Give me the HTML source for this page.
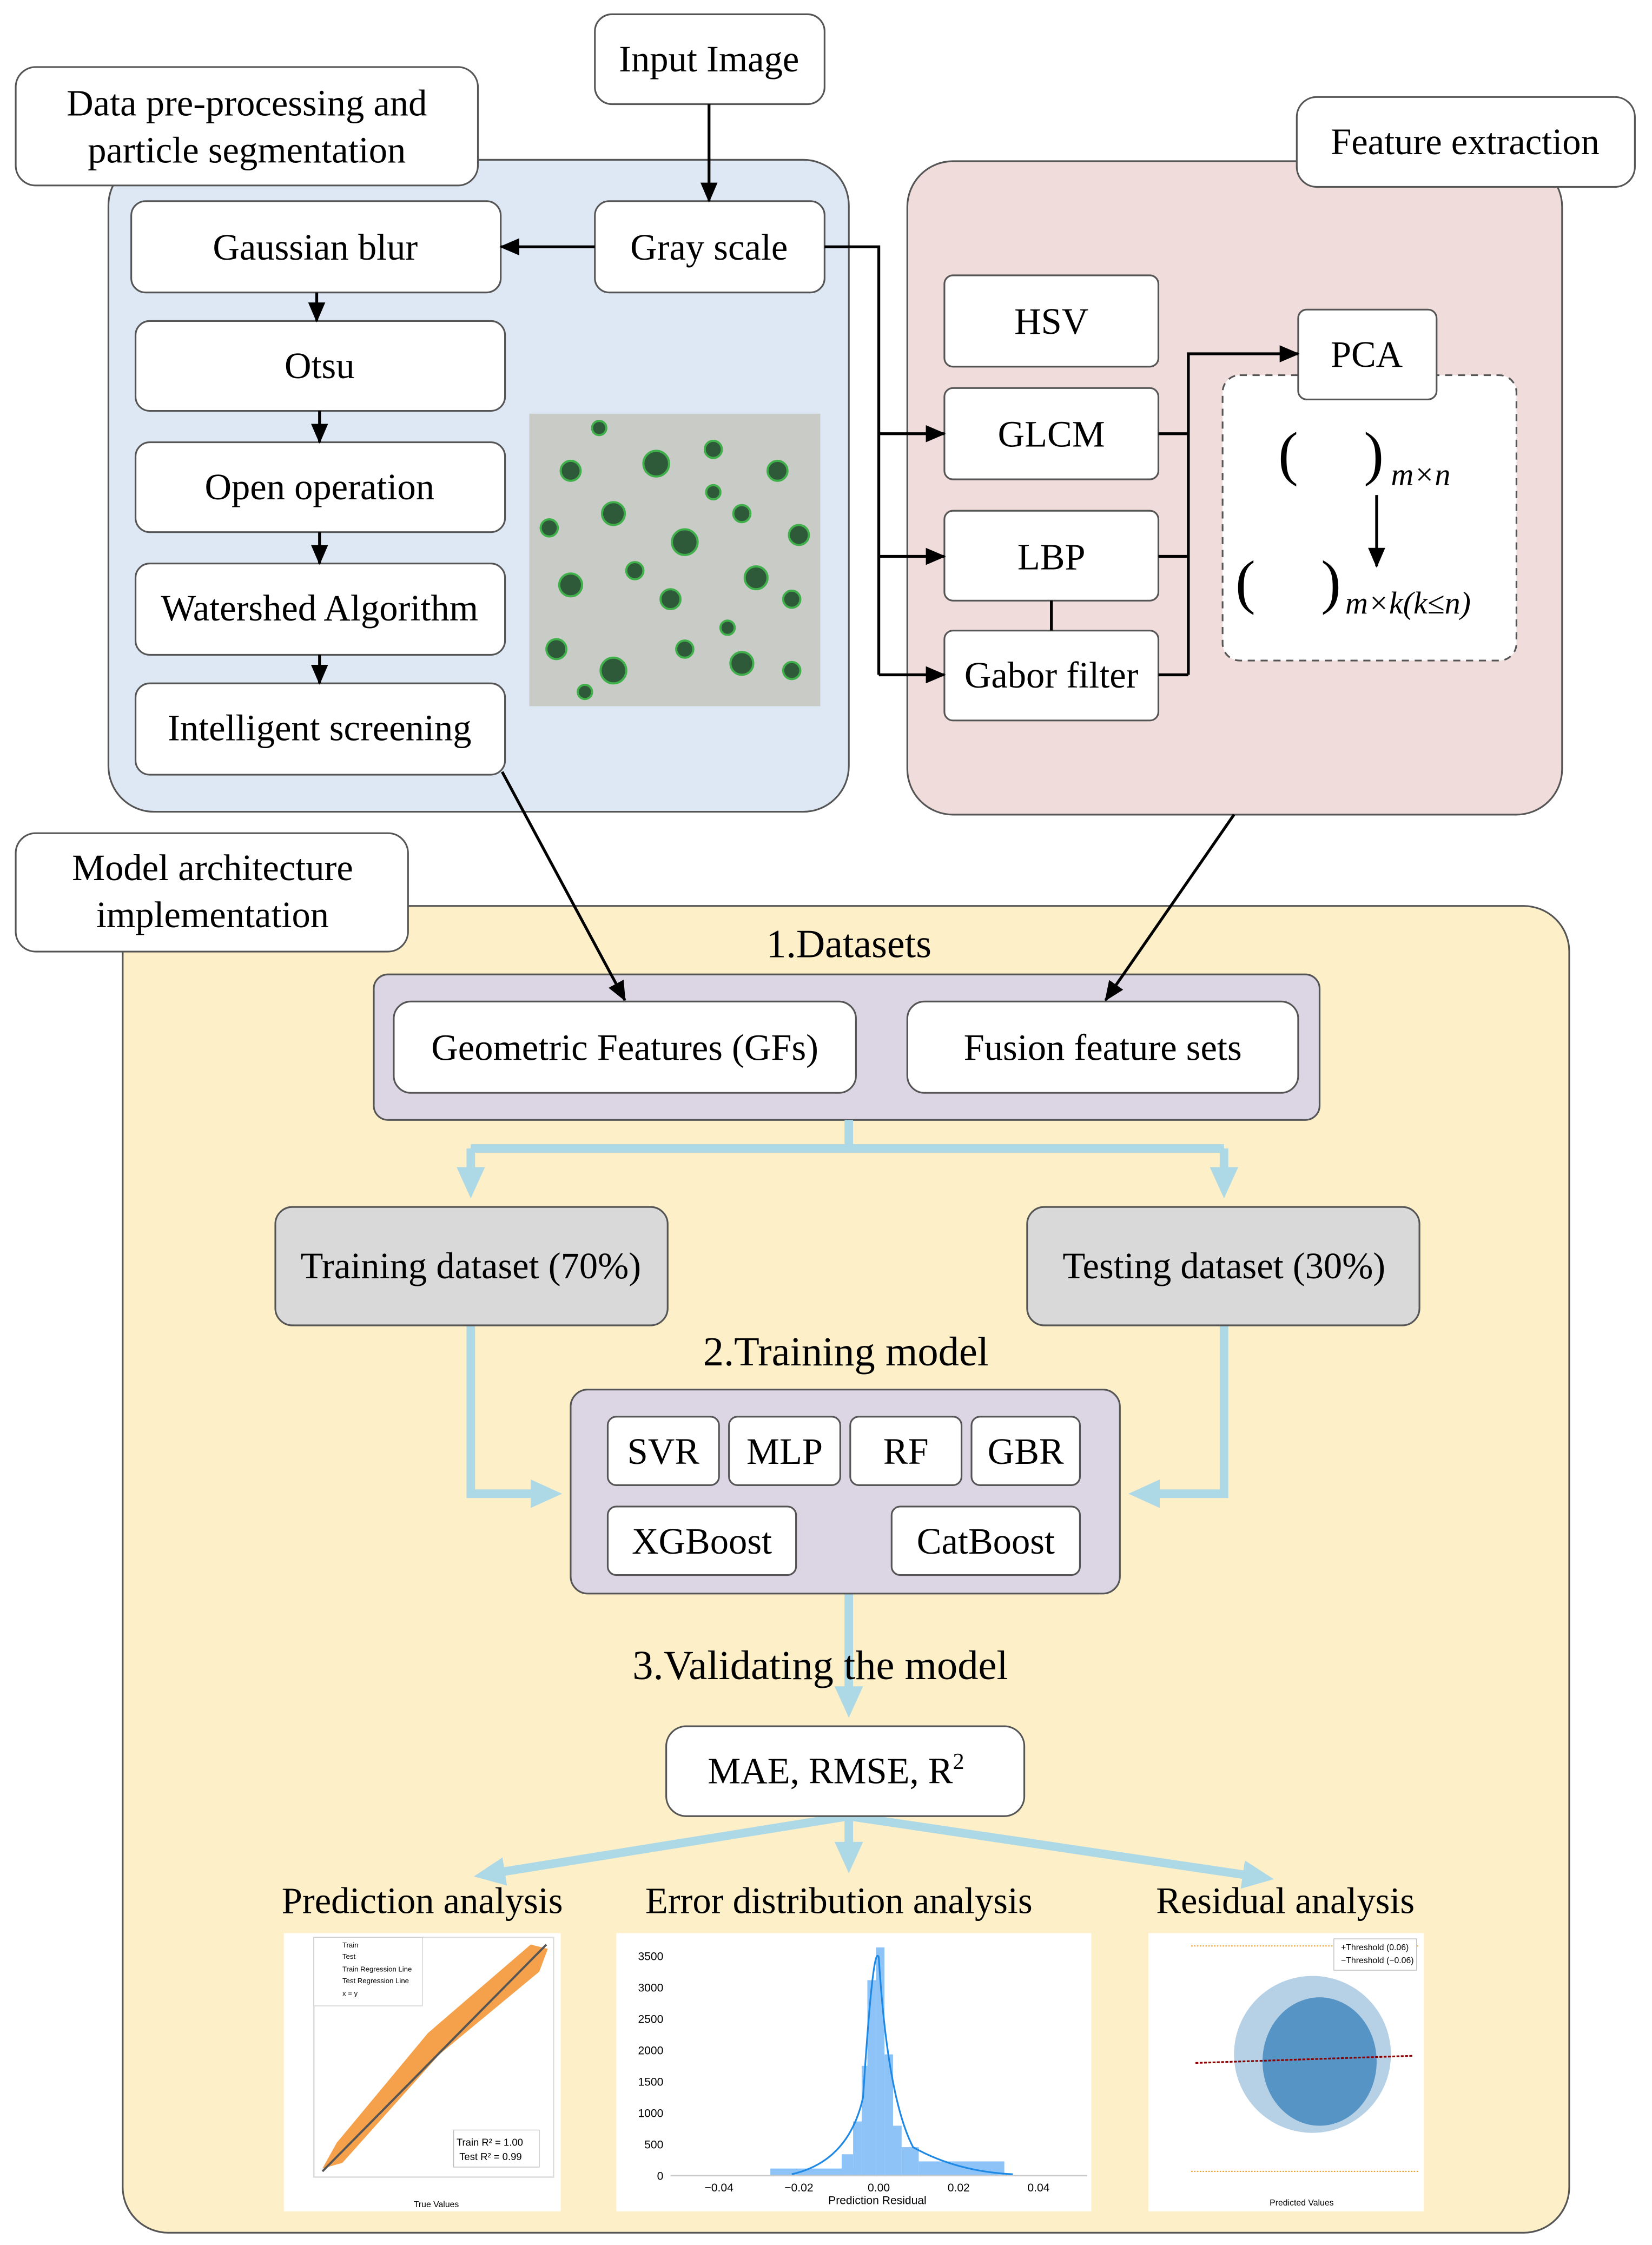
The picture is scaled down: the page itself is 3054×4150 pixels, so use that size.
<!DOCTYPE html>
<html><head><meta charset="utf-8"><style>
html,body{margin:0;padding:0;background:#fff}
svg{display:block}
text{font-family:"Liberation Serif",serif;fill:#000}
text.s{font-family:"Liberation Sans",sans-serif}
</style></head><body>
<svg width="3054" height="4150" viewBox="0 0 1158 1573.6" xmlns="http://www.w3.org/2000/svg">
<defs>
<marker id="a" markerWidth="14" markerHeight="12" refX="13" refY="6" orient="auto" markerUnits="userSpaceOnUse"><path d="M0,0 L14,6 L0,12 z" fill="#000"/></marker>
<marker id="b" markerWidth="30" markerHeight="30" refX="14" refY="10" orient="auto" markerUnits="userSpaceOnUse"><path d="M0,0 L22,10 L0,20 z" fill="#add8e6"/></marker>
</defs>
<rect x="76" y="112" width="519" height="457" rx="32" fill="#dde8f4" stroke="#555" stroke-width="1.2"/>
<rect x="636" y="113" width="459" height="458" rx="32" fill="#f0dcda" stroke="#555" stroke-width="1.2"/>
<rect x="86" y="635" width="1014" height="930" rx="32" fill="#fdf0c9" stroke="#555" stroke-width="1.2"/>
<g fill="#fff" stroke="#555" stroke-width="1.2">
<rect x="417" y="10" width="161" height="63" rx="12"/>
<rect x="11" y="47" width="324" height="83" rx="14"/>
<rect x="909" y="68" width="237" height="63" rx="14"/>
<rect x="11" y="584" width="275" height="83" rx="14"/>
<rect x="92" y="141" width="259" height="64" rx="10"/>
<rect x="417" y="141" width="161" height="64" rx="10"/>
<rect x="95" y="225" width="259" height="63" rx="10"/>
<rect x="95" y="310" width="259" height="63" rx="10"/>
<rect x="95" y="395" width="259" height="64" rx="10"/>
<rect x="95" y="479" width="259" height="64" rx="10"/>
<rect x="662" y="193" width="150" height="64" rx="6"/>
<rect x="662" y="272" width="150" height="64" rx="6"/>
<rect x="662" y="358" width="150" height="63" rx="6"/>
<rect x="662" y="442" width="150" height="63" rx="6"/>
<rect x="857" y="263" width="206" height="200" rx="12" stroke-dasharray="5,4"/>
<rect x="910" y="217" width="97" height="63" rx="6"/>
</g>
<g font-size="26" text-anchor="middle">
<text x="497" y="50">Input Image</text>
<text x="173" y="81">Data pre-processing and</text>
<text x="173" y="114">particle segmentation</text>
<text x="1027" y="108">Feature extraction</text>
<text x="149" y="617">Model architecture</text>
<text x="149" y="650">implementation</text>
<text x="221" y="182">Gaussian blur</text>
<text x="497" y="182">Gray scale</text>
<text x="224" y="265">Otsu</text>
<text x="224" y="350">Open operation</text>
<text x="224" y="435">Watershed Algorithm</text>
<text x="224" y="519">Intelligent screening</text>
<text x="737" y="234">HSV</text>
<text x="737" y="313">GLCM</text>
<text x="737" y="399">LBP</text>
<text x="737" y="482">Gabor filter</text>
<text x="958" y="257">PCA</text>
</g>
<text x="896" y="332" font-size="42">(</text><text x="956" y="332" font-size="42">)</text>
<text x="975" y="340" font-size="22" font-style="italic">m×n</text>
<line x1="965" y1="347" x2="965" y2="397" stroke="#000" stroke-width="2" marker-end="url(#a)"/>
<text x="866" y="422" font-size="42">(</text><text x="926" y="422" font-size="42">)</text>
<text x="943" y="430" font-size="22" font-style="italic">m×k(k≤n)</text>
<rect x="371" y="290" width="204" height="205" fill="#c9ccc6"/>
<g fill="#2f5a3a" stroke="#3fb04a" stroke-width="1.5">
<circle cx="400" cy="330" r="7"/><circle cx="460" cy="325" r="9"/><circle cx="500" cy="315" r="6"/><circle cx="545" cy="330" r="7"/>
<circle cx="385" cy="370" r="6"/><circle cx="430" cy="360" r="8"/><circle cx="480" cy="380" r="9"/><circle cx="520" cy="360" r="6"/><circle cx="560" cy="375" r="7"/>
<circle cx="400" cy="410" r="8"/><circle cx="445" cy="400" r="6"/><circle cx="470" cy="420" r="7"/><circle cx="530" cy="405" r="8"/><circle cx="555" cy="420" r="6"/>
<circle cx="390" cy="455" r="7"/><circle cx="430" cy="470" r="9"/><circle cx="480" cy="455" r="6"/><circle cx="520" cy="465" r="8"/><circle cx="555" cy="470" r="6"/>
<circle cx="420" cy="300" r="5"/><circle cx="510" cy="440" r="5"/><circle cx="410" cy="485" r="5"/><circle cx="500" cy="345" r="5"/>
</g>
<g stroke="#000" stroke-width="2" fill="none">
<line x1="497" y1="73" x2="497" y2="141" marker-end="url(#a)"/>
<line x1="417" y1="173" x2="351" y2="173" marker-end="url(#a)"/>
<line x1="222" y1="205" x2="222" y2="225" marker-end="url(#a)"/>
<line x1="224" y1="288" x2="224" y2="310" marker-end="url(#a)"/>
<line x1="224" y1="373" x2="224" y2="395" marker-end="url(#a)"/>
<line x1="224" y1="459" x2="224" y2="479" marker-end="url(#a)"/>
<polyline points="578,173 616,173 616,473"/>
<line x1="616" y1="304" x2="662" y2="304" marker-end="url(#a)"/>
<line x1="616" y1="390" x2="662" y2="390" marker-end="url(#a)"/>
<line x1="616" y1="473" x2="662" y2="473" marker-end="url(#a)"/>
<polyline points="812,304 833,304"/><polyline points="812,390 833,390"/><polyline points="812,473 833,473"/>
<polyline points="833,473 833,248 910,248" marker-end="url(#a)"/>
<line x1="737" y1="421" x2="737" y2="442"/>
</g>
<text x="595" y="671" font-size="28" text-anchor="middle">1.Datasets</text>
<rect x="262" y="683" width="663" height="102" rx="10" fill="#dcd6e4" stroke="#555" stroke-width="1.2"/>
<rect x="276" y="702" width="324" height="64" rx="12" fill="#fff" stroke="#555" stroke-width="1.2"/>
<rect x="636" y="702" width="274" height="64" rx="12" fill="#fff" stroke="#555" stroke-width="1.2"/>
<g stroke="#000" stroke-width="2" fill="none">
<line x1="352" y1="541" x2="438" y2="701" marker-end="url(#a)"/>
<line x1="865" y1="571" x2="775" y2="701" marker-end="url(#a)"/>
</g>
<text x="438" y="743" font-size="26" text-anchor="middle">Geometric Features (GFs)</text>
<text x="773" y="743" font-size="26" text-anchor="middle">Fusion feature sets</text>
<g stroke="#add8e6" stroke-width="6" fill="none">
<polyline points="595,785 595,805"/>
<polyline points="330,805 858,805"/>
<line x1="330" y1="805" x2="330" y2="832" marker-end="url(#b)"/>
<line x1="858" y1="805" x2="858" y2="832" marker-end="url(#b)"/>
<polyline points="330,929 330,1047 386,1047" marker-end="url(#b)"/>
<polyline points="858,929 858,1047 799,1047" marker-end="url(#b)"/>
<line x1="595" y1="1117" x2="595" y2="1196" marker-end="url(#b)"/>
<line x1="595" y1="1273" x2="595" y2="1305" marker-end="url(#b)"/>
<line x1="595" y1="1273" x2="340" y2="1314" marker-end="url(#b)"/>
<line x1="595" y1="1273" x2="885" y2="1316" marker-end="url(#b)"/>
</g>
<rect x="193" y="846" width="275" height="83" rx="12" fill="#d9d9d9" stroke="#555" stroke-width="1.2"/>
<rect x="720" y="846" width="275" height="83" rx="12" fill="#d9d9d9" stroke="#555" stroke-width="1.2"/>
<text x="330" y="896" font-size="26" text-anchor="middle">Training dataset (70%)</text>
<text x="858" y="896" font-size="26" text-anchor="middle">Testing  dataset (30%)</text>
<text x="593" y="957" font-size="29" text-anchor="middle">2.Training model</text>
<rect x="400" y="974" width="385" height="143" rx="12" fill="#dcd6e4" stroke="#555" stroke-width="1.2"/>
<g fill="#fff" stroke="#555" stroke-width="1.2">
<rect x="426" y="993" width="78" height="48" rx="6"/><rect x="511" y="993" width="78" height="48" rx="6"/>
<rect x="596" y="993" width="78" height="48" rx="6"/><rect x="681" y="993" width="76" height="48" rx="6"/>
<rect x="426" y="1056" width="132" height="48" rx="6"/><rect x="625" y="1056" width="132" height="48" rx="6"/>
</g>
<g font-size="26" text-anchor="middle">
<text x="465" y="1026">SVR</text><text x="550" y="1026">MLP</text><text x="635" y="1026">RF</text><text x="719" y="1026">GBR</text>
<text x="492" y="1089">XGBoost</text><text x="691" y="1089">CatBoost</text>
</g>
<text x="575" y="1177" font-size="29" text-anchor="middle">3.Validating the model</text>
<rect x="467" y="1210" width="251" height="63" rx="14" fill="#fff" stroke="#555" stroke-width="1.2"/>
<text x="586" y="1250" font-size="26" text-anchor="middle">MAE, RMSE, R<tspan font-size="16" dy="-10">2</tspan></text>
<g font-size="26" text-anchor="middle">
<text x="296" y="1341">Prediction analysis</text>
<text x="588" y="1341">Error distribution analysis</text>
<text x="901" y="1341">Residual analysis</text>
</g>
<rect x="199" y="1355" width="194" height="195" fill="#fff"/>
<rect x="220" y="1358" width="168" height="168" fill="none" stroke="#ddd"/>
<polygon points="226,1520 236,1502 300,1425 372,1363 384,1366 378,1382 308,1440 240,1516" fill="#f5a04a"/>
<line x1="226" y1="1522" x2="383" y2="1363" stroke="#555" stroke-width="1.5"/>
<rect x="220" y="1358" width="76" height="48" fill="#fff" stroke="#ccc" stroke-width=".5"/>
<g font-size="5"><text class="s" x="240" y="1365">Train</text><text class="s" x="240" y="1373">Test</text><text class="s" x="240" y="1382">Train Regression Line</text><text class="s" x="240" y="1390">Test Regression Line</text><text class="s" x="240" y="1399">x = y</text></g>
<rect x="318" y="1493" width="60" height="26" fill="#fff" stroke="#bbb" stroke-width=".5"/>
<text class="s" x="320" y="1504" font-size="7">Train R² = 1.00</text>
<text class="s" x="322" y="1514" font-size="7">Test R² = 0.99</text>
<text class="s" x="290" y="1547" font-size="6">True Values</text>
<rect x="432" y="1355" width="333" height="195" fill="#fff"/>
<g fill="#8ec3f7">
<rect x="540" y="1520" width="60" height="5"/><rect x="590" y="1510" width="8" height="15"/><rect x="598" y="1487" width="6" height="38"/>
<rect x="604" y="1448" width="6" height="77"/><rect x="608" y="1388" width="6" height="137"/><rect x="614" y="1365" width="6" height="160"/>
<rect x="620" y="1440" width="6" height="85"/><rect x="626" y="1490" width="6" height="35"/><rect x="632" y="1505" width="12" height="20"/><rect x="644" y="1515" width="60" height="10"/>
</g>
<path d="M555,1524 Q595,1515 605,1470 Q612,1360 616,1372 Q622,1470 640,1505 Q670,1522 710,1524" fill="none" stroke="#1e88e5" stroke-width="1.2"/>
<line x1="470" y1="1525" x2="762" y2="1525" stroke="#ccc"/>
<g font-size="8" text-anchor="end"><text class="s" x="465" y="1374">3500</text><text class="s" x="465" y="1396">3000</text><text class="s" x="465" y="1418">2500</text><text class="s" x="465" y="1440">2000</text><text class="s" x="465" y="1462">1500</text><text class="s" x="465" y="1484">1000</text><text class="s" x="465" y="1506">500</text><text class="s" x="465" y="1528">0</text></g>
<g font-size="8" text-anchor="middle"><text class="s" x="504" y="1536">−0.04</text><text class="s" x="560" y="1536">−0.02</text><text class="s" x="616" y="1536">0.00</text><text class="s" x="672" y="1536">0.02</text><text class="s" x="728" y="1536">0.04</text><text class="s" x="615" y="1545">Prediction Residual</text></g>
<rect x="805" y="1355" width="193" height="195" fill="#fff"/>
<ellipse cx="920" cy="1440" rx="55" ry="55" fill="#2e7bb8" opacity=".35"/>
<ellipse cx="925" cy="1445" rx="40" ry="45" fill="#2e7bb8" opacity=".7"/>
<line x1="838" y1="1446" x2="990" y2="1441" stroke="#8b0000" stroke-width="1.2" stroke-dasharray="2,1"/>
<line x1="835" y1="1364" x2="995" y2="1364" stroke="#f0a030" stroke-width=".8" stroke-dasharray="1,1"/>
<line x1="835" y1="1522" x2="995" y2="1522" stroke="#f0a030" stroke-width=".8" stroke-dasharray="1,1"/>
<rect x="935" y="1359" width="58" height="22" fill="#fff" stroke="#bbb" stroke-width=".5"/>
<text class="s" x="940" y="1367" font-size="6">+Threshold (0.06)</text>
<text class="s" x="940" y="1376" font-size="6">−Threshold (−0.06)</text>
<text class="s" x="890" y="1546" font-size="6">Predicted Values</text>
</svg>
</body></html>
